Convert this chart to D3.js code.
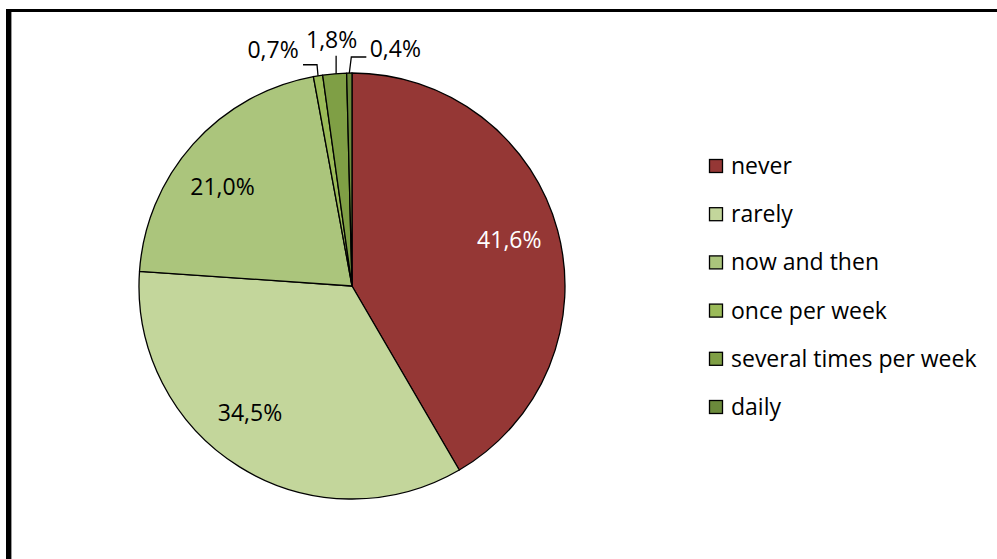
<!DOCTYPE html>
<html>
<head>
<meta charset="utf-8">
<script src="https://cdn.jsdelivr.net/npm/d3@7"></script>
<style>
  body { margin: 0; background: #fff; }
  svg { display: block; }
</style>
</head>
<body>
<div id="chart"></div>
<script>
"use strict";

const categories = ["never", "rarely", "now and then", "once per week", "several times per week", "daily"];
const shares = [41.6, 34.5, 21.0, 0.7, 1.8, 0.4];
const colors = ["#953735", "#c3d69b", "#abc57c", "#9bbb59", "#7f9f45", "#6b8a3b"];
// nudges for inside labels, offsets for thin-slice outside labels (from the rim)
const insideNudge = { 0: { dx: 0, dy: -4 }, 1: { dx: -16, dy: -11 }, 2: { dx: -8, dy: 9 } };
const outsideLabel = { 3: { dx: -45, dy: -26 }, 4: { dx: -3, dy: -34 }, 5: { dx: 46, dy: -24 } };

const W = 997;
const H = 559;
const cx = 352;
const cy = 286;
const R = 213;
const fontFam = "'Open Sans', Lato, sans-serif";
const fontSize = "23px";

const svg = d3.select("#chart").append("svg").attr("width", W).attr("height", H);

// frame (cropped chart area border)
svg.append("rect").attr("x", 6).attr("y", 9).attr("width", 5).attr("height", H - 9).attr("fill", "#000");
svg.append("rect").attr("x", 6).attr("y", 9).attr("width", W - 6).attr("height", 3).attr("fill", "#000");
svg.append("line").attr("x1", 11.5).attr("x2", 11.5).attr("y1", 12).attr("y2", H).attr("stroke", "#999").attr("stroke-width", 1);

const data = categories.map((c, i) => ({ name: c, value: shares[i], idx: i }));

const pie = d3.pie().value((d) => d.value).sort(null);
const arcs = pie(data);
const arc = d3.arc().innerRadius(0).outerRadius(R);
const labelArc = d3.arc().innerRadius(R * 0.765).outerRadius(R * 0.765);

const g = svg.append("g").attr("transform", `translate(${cx},${cy})`);

g.selectAll("path")
  .data(arcs)
  .enter()
  .append("path")
  .attr("d", arc)
  .attr("fill", (d) => colors[d.data.idx])
  .attr("stroke", "#000")
  .attr("stroke-width", 1.3)
  .attr("stroke-linejoin", "round");

const fmt = (v) => v.toFixed(1).replace(".", ",") + "%";

// inside labels
g.selectAll("text.in")
  .data(arcs.filter((d) => !outsideLabel[d.data.idx]))
  .enter()
  .append("text")
  .attr("class", "in")
  .attr("transform", (d) => {
    const [x, y] = labelArc.centroid(d);
    const n = insideNudge[d.data.idx];
    return `translate(${x + n.dx},${y + n.dy})`;
  })
  .attr("text-anchor", "middle")
  .attr("dy", "0.35em")
  .attr("font-family", fontFam)
  .attr("font-size", fontSize)
  .attr("fill", (d) => (d.data.idx === 0 ? "#fff" : "#000"))
  .text((d) => fmt(d.data.value));

// outside labels with leader lines
const rimPoint = (d) => {
  const a = (d.startAngle + d.endAngle) / 2;
  return [R * Math.sin(a), -R * Math.cos(a)];
};

arcs.filter((d) => outsideLabel[d.data.idx]).forEach((d) => {
  const off = outsideLabel[d.data.idx];
  const [px, py] = rimPoint(d);
  const tx = px + off.dx;
  const ty = py + off.dy;
  let pts;
  if (off.dx < -10) {
    pts = [[px, py], [px - 1, ty + 15], [tx + 30, ty + 15]];
  } else if (off.dx > 10) {
    pts = [[px, py], [px + 2, ty + 8], [tx - 29, ty + 8]];
  } else {
    pts = [[px + 1.5, py], [px + 1.5, ty + 16]];
  }
  g.append("path")
    .attr("d", d3.line()(pts))
    .attr("fill", "none")
    .attr("stroke", "#000")
    .attr("stroke-width", 1.3);
  g.append("text")
    .attr("x", tx)
    .attr("y", ty)
    .attr("text-anchor", "middle")
    .attr("dy", "0.35em")
    .attr("font-family", fontFam)
    .attr("font-size", fontSize)
    .attr("fill", "#000")
    .text(fmt(d.data.value));
});

// legend
const legend = svg.append("g").attr("transform", "translate(709,159)");
const rows = legend.selectAll("g")
  .data(data)
  .enter()
  .append("g")
  .attr("transform", (d, i) => `translate(0,${i * 48.2})`);

rows.append("rect")
  .attr("x", 0.5)
  .attr("y", 0.5)
  .attr("width", 13)
  .attr("height", 13)
  .attr("fill", (d) => colors[d.idx])
  .attr("stroke", "#000")
  .attr("stroke-width", 1.3);

rows.append("text")
  .attr("x", 22)
  .attr("y", 7)
  .attr("dy", "0.35em")
  .attr("font-family", fontFam)
  .attr("font-size", fontSize)
  .attr("fill", "#000")
  .text((d) => d.name);
</script>
</body>
</html>
